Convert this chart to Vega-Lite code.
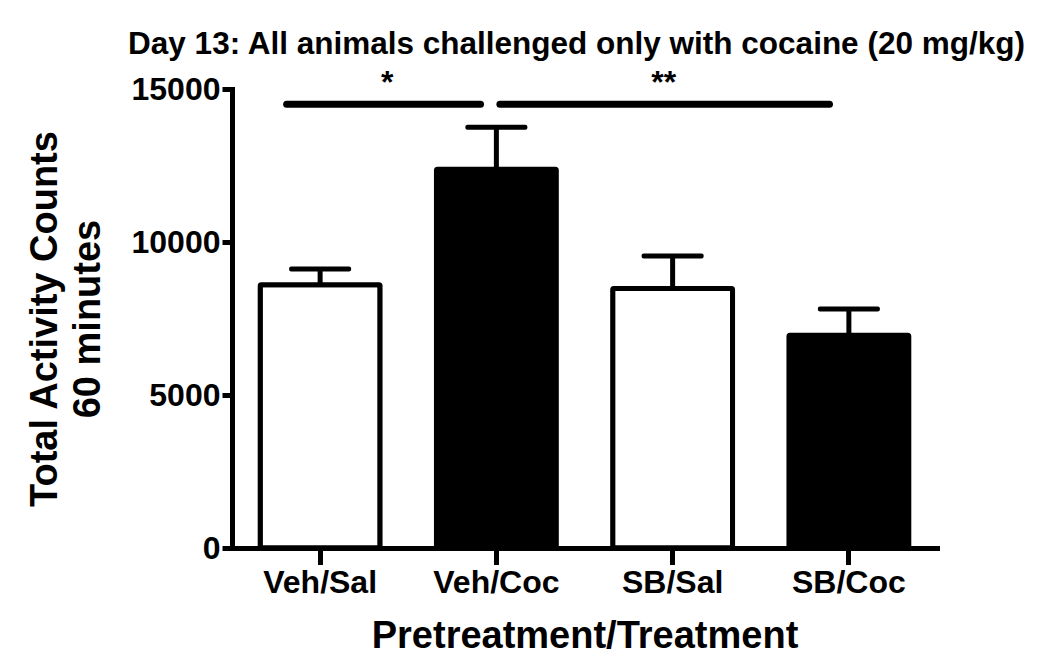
{
  "$schema": "https://vega.github.io/schema/vega-lite/v6.json",
  "width": 705,
  "height": 459,
  "autosize": {"type": "none"},
  "padding": {"left": 232, "top": 89, "right": 113, "bottom": 121},
  "background": "white",
  "title": {
    "text": "Day 13: All animals challenged only with cocaine (20 mg/kg)",
    "font": "Liberation Sans",
    "fontSize": 31.5,
    "fontWeight": "bold",
    "color": "black",
    "anchor": "middle",
    "frame": "group",
    "dx": -8,
    "offset": 6
  },
  "config": {
    "view": {"stroke": null},
    "axis": {"grid": false}
  },
  "datasets": {
    "bars": [
      {"group": "Veh/Sal", "treatment": "Sal", "mean": 8600, "upper": 9120},
      {"group": "Veh/Coc", "treatment": "Coc", "mean": 12380, "upper": 13750},
      {"group": "SB/Sal", "treatment": "Sal", "mean": 8480, "upper": 9540},
      {"group": "SB/Coc", "treatment": "Coc", "mean": 6950, "upper": 7810}
    ],
    "sig": [
      {"from": 0.31, "to": 1.41, "level": 14500, "star_x": 0.88, "star_y": 15200, "stars": "*"},
      {"from": 1.52, "to": 3.39, "level": 14500, "star_x": 2.45, "star_y": 15200, "stars": "**"}
    ]
  },
  "resolve": {"scale": {"x": "independent"}, "axis": {"x": "independent"}},
  "layer": [
    {
      "data": {"name": "bars"},
      "encoding": {
        "x": {
          "field": "group",
          "type": "nominal",
          "sort": ["Veh/Sal", "Veh/Coc", "SB/Sal", "SB/Coc"],
          "scale": {"type": "band", "paddingInner": 0.32, "paddingOuter": 0.16},
          "axis": {
            "title": "Pretreatment/Treatment",
            "titleFont": "Liberation Sans",
            "titleFontSize": 38,
            "titleFontWeight": "bold",
            "titleColor": "black",
            "titlePadding": 19,
            "labelAngle": 0,
            "labelAlign": "center",
            "labelBaseline": "top",
            "labelFont": "Liberation Sans",
            "labelFontSize": 32,
            "labelFontWeight": "bold",
            "labelColor": "black",
            "labelPadding": 5,
            "domainColor": "black",
            "domainWidth": 5,
            "domainCap": "square",
            "ticks": true,
            "tickColor": "black",
            "tickWidth": 5,
            "tickSize": 14,
            "tickCap": "square"
          }
        }
      },
      "layer": [
        {
          "mark": {"type": "rule", "stroke": "black", "strokeWidth": 5},
          "encoding": {
            "y": {"field": "mean", "type": "quantitative"},
            "y2": {"field": "upper"}
          }
        },
        {
          "mark": {"type": "tick", "color": "black", "size": 62, "thickness": 5, "cornerRadius": 2, "opacity": 1},
          "encoding": {
            "y": {"field": "upper", "type": "quantitative"}
          }
        },
        {
          "mark": {"type": "bar", "stroke": "black", "strokeWidth": 5, "cornerRadius": 1},
          "encoding": {
            "y": {
              "field": "mean",
              "type": "quantitative",
              "scale": {"domain": [0, 15000], "nice": false},
              "axis": {
                "values": [0, 5000, 10000, 15000],
                "format": "d",
                "title": ["Total  Activity Counts", "60 minutes"],
                "titleFont": "Liberation Sans",
                "titleFontSize": 38,
                "titleFontWeight": "bold",
                "titleColor": "black",
                "titleLineHeight": 43,
                "titlePadding": 24,
                "labelFont": "Liberation Sans",
                "labelFontSize": 32,
                "labelFontWeight": "bold",
                "labelColor": "black",
                "labelPadding": 2,
                "domainColor": "black",
                "domainWidth": 5,
                "domainCap": "square",
                "tickColor": "black",
                "tickWidth": 5,
                "tickSize": 10
              }
            },
            "fill": {
              "field": "treatment",
              "type": "nominal",
              "scale": {"domain": ["Sal", "Coc"], "range": ["white", "black"]},
              "legend": null
            }
          }
        }
      ]
    },
    {
      "data": {"name": "sig"},
      "layer": [
        {
          "mark": {"type": "rule", "stroke": "black", "strokeWidth": 7, "strokeCap": "round"},
          "encoding": {
            "x": {"field": "from", "type": "quantitative", "scale": {"domain": [0, 4], "nice": false, "zero": false}, "axis": null},
            "x2": {"field": "to"},
            "y": {"field": "level", "type": "quantitative"}
          }
        },
        {
          "mark": {"type": "text", "font": "Liberation Sans", "fontSize": 32, "fontWeight": "bold", "color": "black", "baseline": "middle"},
          "encoding": {
            "x": {"field": "star_x", "type": "quantitative", "scale": {"domain": [0, 4], "nice": false, "zero": false}, "axis": null},
            "y": {"field": "star_y", "type": "quantitative"},
            "text": {"field": "stars"}
          }
        }
      ]
    }
  ]
}
